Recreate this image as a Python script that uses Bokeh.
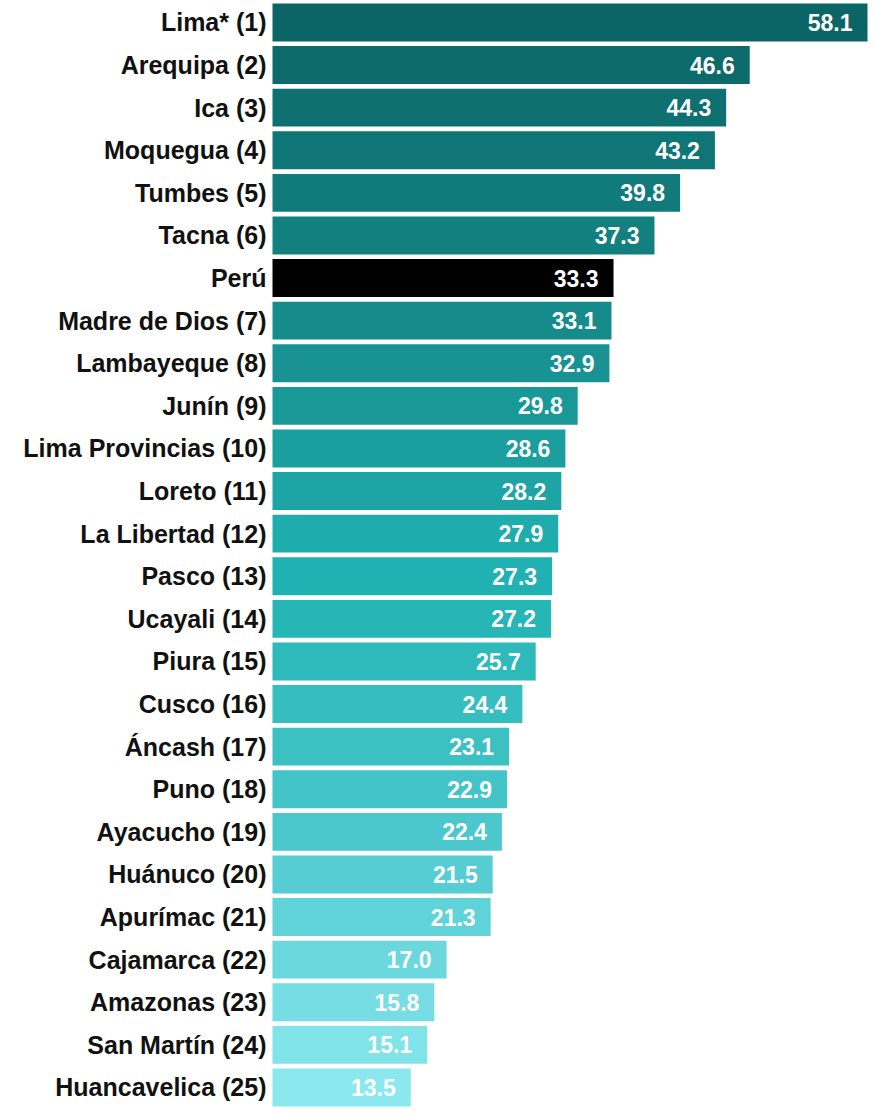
from bokeh.plotting import figure
from bokeh.models import ColumnDataSource, Range1d
from bokeh.core.properties import value
from bokeh.embed import file_html
from bokeh.resources import INLINE

labels = ["Lima* (1)", "Arequipa (2)", "Ica (3)", "Moquegua (4)", "Tumbes (5)", "Tacna (6)",
          "Perú", "Madre de Dios (7)", "Lambayeque (8)", "Junín (9)", "Lima Provincias (10)",
          "Loreto (11)", "La Libertad (12)", "Pasco (13)", "Ucayali (14)", "Piura (15)",
          "Cusco (16)", "Áncash (17)", "Puno (18)", "Ayacucho (19)", "Huánuco (20)",
          "Apurímac (21)", "Cajamarca (22)", "Amazonas (23)", "San Martín (24)",
          "Huancavelica (25)"]
values = [58.1, 46.6, 44.3, 43.2, 39.8, 37.3, 33.3, 33.1, 32.9, 29.8, 28.6, 28.2, 27.9,
          27.3, 27.2, 25.7, 24.4, 23.1, 22.9, 22.4, 21.5, 21.3, 17.0, 15.8, 15.1, 13.5]

# colour gradient anchors (style)
anchors = [(0, (11, 101, 102)), (7, (22, 139, 139)), (13, (32, 178, 178)),
           (19, (74, 200, 204)), (25, (138, 232, 238))]


def grad(i):
    for (a, ca), (b, cb) in zip(anchors[:-1], anchors[1:]):
        if a <= i <= b:
            t = (i - a) / (b - a)
            c = [round(ca[k] + (cb[k] - ca[k]) * t) for k in range(3)]
            return "#%02x%02x%02x" % tuple(c)
    return "#8ae8ee"


colors = []
for i, lab in enumerate(labels):
    colors.append("#000000" if lab == "Perú" else grad(i))

ys = list(range(len(labels)))
src = ColumnDataSource(dict(y=ys, v=values, lab=labels, col=colors,
                            txt=["%.1f" % v for v in values]))

W, H = 869, 1109
x0 = 272
scale = (867 - x0) / 58.1
pitch = 42.6
top = -0.445 - 3 / pitch
p = figure(width=W, height=H, output_backend="svg", toolbar_location=None,
           x_range=Range1d(-x0 / scale, (W - x0) / scale),
           y_range=Range1d(top + H / pitch, top),
           min_border=0, outline_line_color=None)
p.axis.visible = False
p.grid.visible = False
p.background_fill_color = "white"
p.border_fill_color = "white"

p.hbar(y="y", left=0, right="v", height=0.89, fill_color="col", line_color=None, source=src)
p.text(x=0, y="y", text="lab", source=src, x_offset=-6, text_align="right",
       text_baseline="middle", text_font=value("Liberation Sans"), text_font_style="bold",
       text_font_size="25px", text_color="#111111")
p.text(x="v", y="y", text="txt", source=src, x_offset=-15, text_align="right",
       text_baseline="middle", text_font=value("Liberation Sans"), text_font_style="bold",
       text_font_size="23px", text_color="white")

open("out.html", "w").write(file_html(p, INLINE))
